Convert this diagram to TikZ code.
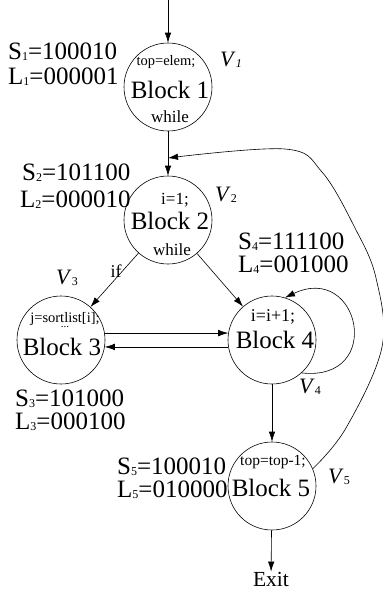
\documentclass[tikz,border=0pt]{standalone}
\usepackage{fontspec}
\setmainfont{Liberation Serif}
\usepackage{tikz}
\usetikzlibrary{arrows.meta,positioning,calc}

\newcommand\fsz[1]{\fontsize{#1}{#1}\selectfont}
\newcommand\lsub[1]{\raisebox{-1pt}{\fsz{12}#1}}

\begin{document}
\begin{tikzpicture}[
  x=1pt, y=-1pt,
  blk/.style={circle, draw, line width=0.6pt, minimum size=88pt, inner sep=0pt},
  big/.style={font=\fsz{25}, inner sep=0pt},
  code/.style={inner sep=0pt},
  lab/.style={font=\fsz{25}, inner sep=0pt, anchor=west},
  vlab/.style={font=\fsz{22}, inner sep=0pt},
  arr/.style={-{Latex[length=10pt,width=6.5pt]}, line width=0.6pt}
]
\useasboundingbox (0,0) rectangle (383,592);

% blocks
\node[blk] (b1) at (168,87) {};
\node[blk] (b2) at (168,220) {};
\node[blk] (b3) at (61,340) {};
\node[blk] (b4) at (272,340) {};
\node[blk] (b5) at (272,486) {};

% block contents
\node[code, font=\fsz{14.5}] (t1) at (166,62) {top=elem;};
\node[big] (n1) at (170,90) {Block 1};
\node[code, font=\fsz{17}] (w1) at (170,117) {while};
\node[code, font=\fsz{17}] (t2) at (175,200) {i=1;};
\node[big] (n2) at (170,221) {Block 2};
\node[code, font=\fsz{17}] (w2) at (172,250) {while};
\node[code, font=\fsz{14.5}] (t3) at (65,319) {j=sortlist[i];};
\node[code, font=\fsz{11}, below=0.5pt of t3] (d3) {...};
\node[big] (n3) at (62,347) {Block 3};
\node[code, font=\fsz{18}] (t4) at (273,317) {i=i+1;};
\node[big] (n4) at (275,340) {Block 4};
\node[code, font=\fsz{15.5}] (t5) at (273,462) {top=top-1;};
\node[big] (n5) at (271,488) {Block 5};
\node[code, font=\fsz{21.5}] (exit) at (271,579) {Exit};

% S/L labels
\node[lab] (s1) at (8,52) {S\lsub{1}=100010};
\node[lab] (l1) at (8,77) {L\lsub{1}=000001};
\node[lab] (s2) at (22,173) {S\lsub{2}=101100};
\node[lab] (l2) at (20,200) {L\lsub{2}=000010};
\node[lab] (s4) at (238,242) {S\lsub{4}=111100};
\node[lab] (l4) at (238,265) {L\lsub{4}=001000};
\node[lab] (s3) at (15,399) {S\lsub{3}=101000};
\node[lab] (l3) at (15,422) {L\lsub{3}=000100};
\node[lab] (s5) at (117,467) {S\lsub{5}=100010};
\node[lab] (l5) at (117,490) {L\lsub{5}=010000};

% vertex names
\node[vlab] (v1) at (231,60) {\textit{V}\lsub{\textit{1}}};
\node[vlab] (v2) at (226,195) {\textit{V}\lsub{2}};
\node[vlab] (v3) at (67,278) {\textit{V}\lsub{3}};
\node[vlab] (v4) at (310,387) {\textit{V}\lsub{4}};
\node[vlab] (v5) at (339,477) {\textit{V}\lsub{5}};
\node[code, font=\fsz{18}] (if) at (116,271) {if};

\coordinate (start) at (168,0);
\coordinate (j) at (168,158);

% edges
\draw[arr] (start) -- (b1);
\draw[arr] (b1) -- (b2);
\draw[arr] (b2) -- (b3);
\draw[arr] (b2) -- (b4);
\draw[arr] (b3.9) -- (b4.171);
\draw[arr] (b4.189) -- (b3.351);
\draw[arr] (b4.-48) .. controls (385,382) and (360,262) .. (b4.73);
\draw[arr] (b4) -- (b5);
\draw[arr] (b5) -- (exit);
\draw[arr] plot[smooth, tension=0.6] coordinates
  {(b5.23) (346,428) (382,347) (376,278) (355,228) (322,172) (285,149) (j)};
\end{tikzpicture}
\end{document}
